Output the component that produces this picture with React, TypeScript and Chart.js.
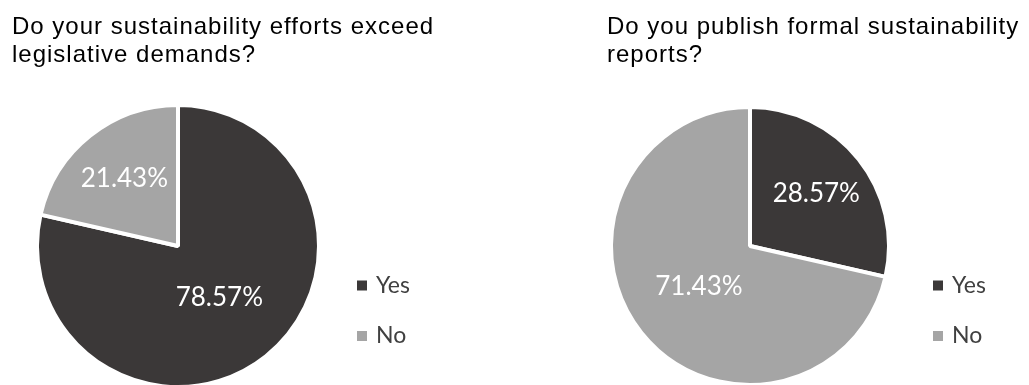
import React, { useEffect, useRef } from "react";
import { Chart, registerables } from "chart.js";

Chart.register(...registerables);

// ---- data ----
const categories = ["Yes", "No"];
const effortsValues = [78.57, 21.43];
const reportsValues = [28.57, 71.43];
const effortsTitle = ["Do your sustainability efforts exceed", "legislative demands?"];
const reportsTitle = ["Do you publish formal sustainability", "reports?"];
const sliceColors = ["#3b3838", "#a5a5a5"];

const decorPlugin = {
  id: "pieDecor",
  afterDraw(chart: any, _args: any, opts: any) {
    const ctx = chart.ctx as CanvasRenderingContext2D;
    ctx.save();
    // title
    ctx.fillStyle = "#000000";
    ctx.font = '24px "Liberation Sans", Arial, sans-serif';
    (ctx as any).letterSpacing = "1px";
    ctx.textAlign = "left";
    ctx.textBaseline = "alphabetic";
    (opts.title as string[]).forEach((line, i) => {
      ctx.fillText(line, opts.titleX, opts.titleBaseline + i * opts.titleLineHeight);
    });
    (ctx as any).letterSpacing = "0px";
    // slice labels
    const meta = chart.getDatasetMeta(0);
    const data = chart.data.datasets[0].data as number[];
    ctx.font = '26px Lato, "Open Sans", sans-serif';
    ctx.fillStyle = "#ffffff";
    ctx.textAlign = "center";
    ctx.textBaseline = "middle";
    meta.data.forEach((arc: any, i: number) => {
      const p = arc.getProps(["x", "y", "startAngle", "endAngle", "outerRadius"], true);
      const mid = (p.startAngle + p.endAngle) / 2;
      const frac = data[i] > 50 ? 0.47 : 0.61;
      ctx.fillText(
        data[i].toFixed(2) + "%",
        p.x + Math.cos(mid) * p.outerRadius * frac,
        p.y + Math.sin(mid) * p.outerRadius * frac
      );
    });
    // legend
    const labels = chart.data.labels as string[];
    const colors = chart.data.datasets[0].backgroundColor as string[];
    ctx.font = '23px Lato, "Open Sans", sans-serif';
    ctx.textAlign = "left";
    ctx.textBaseline = "middle";
    labels.forEach((lab, i) => {
      const cy = opts.legendY + i * opts.legendGap;
      ctx.fillStyle = colors[i];
      ctx.fillRect(opts.legendX, cy - 5, 10, 10);
      ctx.fillStyle = "#404040";
      ctx.fillText(lab, opts.legendX + 19, cy);
    });
    ctx.restore();
  },
};

type PieProps = {
  left: number;
  width: number;
  values: number[];
  title: string[];
  padding: { left: number; right: number; top: number; bottom: number };
  titleX: number;
  legendX: number;
};

const CANVAS_H = 400;

function PieChart({ left, width, values, title, padding, titleX, legendX }: PieProps) {
  const ref = useRef<HTMLCanvasElement | null>(null);
  useEffect(() => {
    if (!ref.current) return;
    const chart = new Chart(ref.current, {
      type: "pie",
      data: {
        labels: categories,
        datasets: [
          {
            data: values,
            backgroundColor: sliceColors,
            borderColor: "#ffffff",
            borderWidth: 4,
          },
        ],
      },
      options: {
        responsive: false,
        animation: false,
        devicePixelRatio: 1,
        layout: { padding },
        plugins: {
          legend: { display: false },
          tooltip: { enabled: false },
          title: { display: false },
          pieDecor: {
            title,
            titleX,
            titleBaseline: 33.5,
            titleLineHeight: 28.5,
            legendX,
            legendY: 285.5,
            legendGap: 50.5,
          },
        } as any,
      },
      plugins: [decorPlugin as any],
    });
    return () => chart.destroy();
  }, []);
  return (
    <canvas
      ref={ref}
      width={width}
      height={CANVAS_H}
      style={{ position: "absolute", left, top: 0, width, height: CANVAS_H, display: "block" }}
    />
  );
}

export default function App() {
  return (
    <div
      style={{
        position: "absolute",
        left: 0,
        top: 0,
        width: 1029,
        height: 385,
        overflow: "hidden",
        background: "#ffffff",
      }}
    >
      <PieChart
        left={0}
        width={515}
        values={effortsValues}
        title={effortsTitle}
        padding={{ left: 35, right: 194, top: 103, bottom: 11 }}
        titleX={12}
        legendX={357}
      />
      <PieChart
        left={515}
        width={514}
        values={reportsValues}
        title={reportsTitle}
        padding={{ left: 94, right: 138, top: 105, bottom: 13 }}
        titleX={92}
        legendX={418}
      />
    </div>
  );
}
